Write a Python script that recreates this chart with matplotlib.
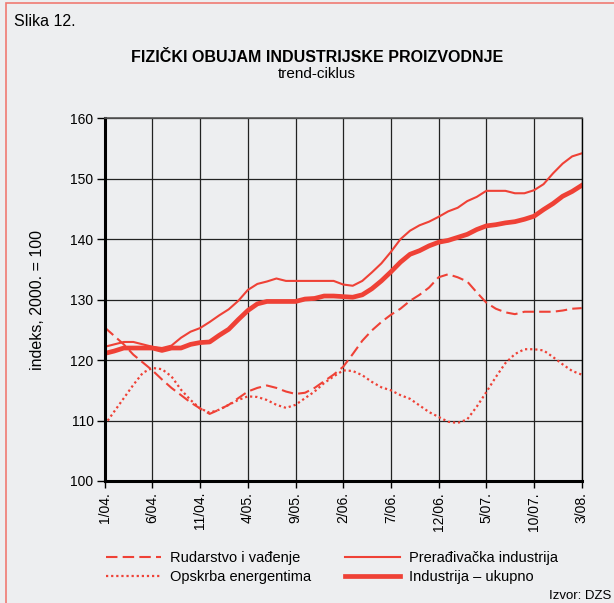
import matplotlib
matplotlib.use("Agg")
import matplotlib.pyplot as plt
import numpy as np

plt.rcParams['font.family'] = ['Liberation Sans', 'DejaVu Sans']

# Monthly data Jan 2004 .. Mar 2008
tick_labels = ["1/04.", "6/04.", "11/04.", "4/05.", "9/05.", "2/06.",
               "7/06.", "12/06.", "5/07.", "10/07.", "3/08."]

rudarstvo = [125.4, 124.0, 122.6, 120.9, 119.6, 118.3, 116.8, 115.4, 114.2, 113.0,
             112.0, 111.1, 111.8, 112.6, 113.7, 114.8, 115.4, 115.8, 115.4, 114.8,
             114.4, 114.6, 115.4, 116.5, 117.6, 118.9, 121.0, 123.2, 124.9, 126.3,
             127.5, 128.5, 129.8, 130.8, 132.0, 133.7, 134.2, 133.7, 133.0, 131.2,
             129.5, 128.5, 127.9, 127.6, 128.0, 128.0, 128.0, 128.0, 128.2, 128.5,
             128.6]

opskrba = [109.3, 111.5, 113.7, 115.9, 117.9, 118.7, 118.5, 117.3, 115.1, 113.4,
           112.0, 111.3, 111.8, 112.6, 113.4, 114.0, 113.9, 113.4, 112.6, 112.1,
           112.6, 113.7, 114.8, 116.2, 117.3, 118.3, 118.2, 117.5, 116.4, 115.5,
           115.0, 114.2, 113.6, 112.5, 111.4, 110.6, 109.8, 109.6, 110.2, 112.3,
           114.7, 117.2, 119.5, 121.0, 121.8, 121.8, 121.6, 120.5, 119.3, 118.2,
           117.6]

preradivacka = [122.2, 122.6, 123.0, 123.0, 122.6, 122.2, 122.0, 122.4, 123.7, 124.7,
                125.3, 126.3, 127.4, 128.4, 129.8, 131.6, 132.6, 133.0, 133.5, 133.1,
                133.1, 133.1, 133.1, 133.1, 133.1, 132.5, 132.3, 133.1, 134.5, 136.0,
                137.9, 140.0, 141.4, 142.3, 142.9, 143.7, 144.6, 145.2, 146.3, 147.0,
                148.0, 148.0, 148.0, 147.6, 147.6, 148.1, 149.1, 150.9, 152.5, 153.7,
                154.2]

ukupno = [121.1, 121.5, 122.0, 122.0, 122.0, 122.0, 121.6, 122.0, 122.0, 122.6,
          122.9, 123.0, 124.1, 125.1, 126.7, 128.2, 129.3, 129.7, 129.7, 129.7,
          129.7, 130.1, 130.2, 130.6, 130.6, 130.5, 130.4, 130.8, 131.8, 133.1,
          134.6, 136.2, 137.5, 138.1, 138.9, 139.5, 139.8, 140.3, 140.8, 141.6,
          142.2, 142.4, 142.7, 142.9, 143.3, 143.8, 144.9, 145.9, 147.1, 147.9,
          148.9]

series_names = ["Rudarstvo i vađenje", "Opskrba energentima",
                "Prerađivačka industrija", "Industrija – ukupno"]

RED = '#EF4136'
BG = '#EDEEF0'

fig = plt.figure(figsize=(6.14, 6.03), dpi=100, facecolor=BG)
W, H = 614, 603

# outer border (red, left/top visible)
fig.add_artist(plt.Rectangle((6 / W, -0.01), 1.0, 1 - 3 / H + 0.01, transform=fig.transFigure,
                             fill=False, edgecolor='#F07A72', linewidth=1.2))

ax = fig.add_axes([104.7 / W, 1 - 481 / H, (581.7 - 104.7) / W, (481 - 118.3) / H])
ax.set_facecolor(BG)

x = np.arange(len(ukupno))
ax.plot(x, rudarstvo, color=RED, lw=1.5, dashes=(5.5, 2.5), label=series_names[0])
ax.plot(x, opskrba, color=RED, lw=1.6, linestyle=(0, (1, 1.3)), label=series_names[1])
ax.plot(x, preradivacka, color=RED, lw=1.5, label=series_names[2])
ax.plot(x, ukupno, color=RED, lw=3.4, label=series_names[3])

ax.set_xlim(0, len(ukupno) - 1)
ax.set_ylim(100, 160)
ax.set_yticks(np.arange(100, 161, 10))
ax.set_xticks(np.arange(0, len(ukupno), 5))
ax.set_xticklabels(tick_labels, rotation=90, fontsize=10)
ax.tick_params(axis='y', labelsize=10, length=6, width=1, direction='out', pad=2)
ax.tick_params(axis='x', length=5, width=1, direction='out', pad=3)
ax.grid(True, color='#222222', linewidth=0.9)
ax.set_axisbelow(True)

for s in ['left', 'bottom']:
    ax.spines[s].set_linewidth(2.2)
    ax.spines[s].set_color('black')
ax.spines['top'].set_linewidth(1.2)
ax.spines['top'].set_color('#555555')
ax.spines['right'].set_linewidth(1.0)
ax.spines['right'].set_color('black')

ax.set_ylabel("indeks, 2000. = 100", fontsize=11.5, labelpad=18)

fig.text(14 / W, 1 - 22 / H, "Slika 12.", fontsize=11.5, va='center', ha='left')
fig.text(317 / W, 1 - 57 / H, "FIZIČKI OBUJAM INDUSTRIJSKE PROIZVODNJE",
         fontsize=11.5, fontweight='bold', ha='center', va='center')
fig.text(317 / W, 1 - 74 / H, "trend-ciklus", fontsize=11, ha='center', va='center')
fig.text(611 / W, 1 - 596 / H, "Izvor: DZS", fontsize=9.5, ha='right', va='center')

handles, labels = ax.get_legend_handles_labels()
fig.legend(handles, labels, ncol=2, loc='upper left',
           bbox_to_anchor=(100 / W, 1 - 545 / H), frameon=False, fontsize=10.5,
           handlelength=3.8, handletextpad=0.6, columnspacing=2.3,
           labelspacing=0.35, borderaxespad=0)

fig.savefig("out.png", dpi=100, facecolor=BG)
